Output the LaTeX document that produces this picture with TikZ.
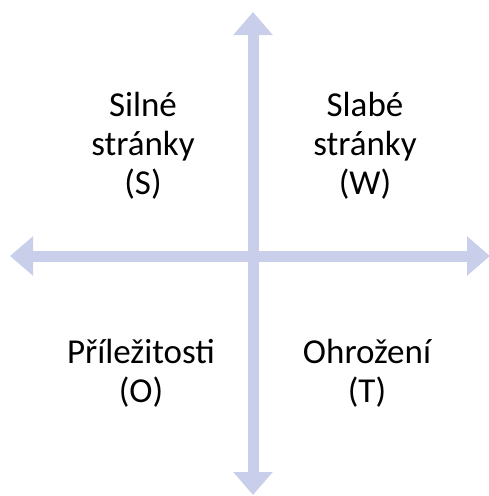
\documentclass[tikz,border=0pt]{standalone}
\usepackage{fontspec}
\setmainfont{Carlito}
\usetikzlibrary{arrows.meta}
\definecolor{axiscol}{RGB}{201,206,234}
\tikzset{
  axis/.style={draw=axiscol, line width=11pt, {Triangle[length=23pt,width=38pt]}-{Triangle[length=23pt,width=38pt]}},
  quad/.style={align=center, text=black, font=\fontsize{35}{39}\selectfont, inner sep=0pt}
}
\begin{document}
\begin{tikzpicture}[x=1pt,y=1pt]
\useasboundingbox (0,0) rectangle (488,-496);
\coordinate (L) at (10,-256);
\coordinate (R) at (490,-256);
\coordinate (T) at (253,-12);
\coordinate (B) at (253,-495);
\draw[axis] (L) -- (R);
\draw[axis] (B) -- (T);
\node[quad] (s) at (143,-146) {Silné\\stránky\\(S)};
\node[quad] (w) at (365,-146) {Slabé\\stránky\\(W)};
\node[quad] (o) at (141,-373) {Příležitosti\\(O)};
\node[quad] (t) at (367,-373) {Ohrožení\\(T)};
\end{tikzpicture}
\end{document}
